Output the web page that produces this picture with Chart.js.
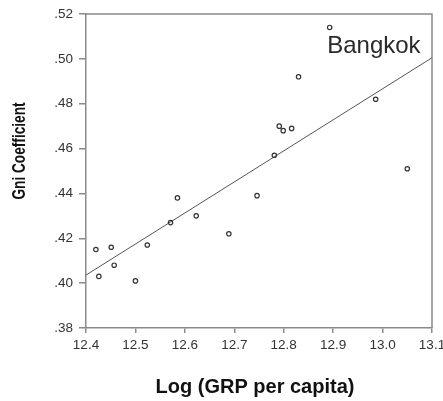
<!DOCTYPE html>
<html>
<head>
<meta charset="utf-8">
<script src="https://cdn.jsdelivr.net/npm/chart.js@4.4.1/dist/chart.umd.min.js"></script>
<style>
  html, body { margin: 0; padding: 0; background: #fff; }
  #wrap { width: 443px; height: 401px; }
</style>
</head>
<body>
<div id="wrap"><canvas id="gini" width="443" height="401"></canvas></div>
<script>
// provinces: log GRP per capita vs Gini coefficient
const logGrp = [12.420, 12.426, 12.451, 12.457, 12.500, 12.524, 12.571, 12.585, 12.623, 12.689,
                12.746, 12.781, 12.791, 12.799, 12.816, 12.830, 12.893, 12.986, 13.050];
const gini = [0.415, 0.403, 0.416, 0.408, 0.401, 0.417, 0.427, 0.438, 0.430, 0.422,
              0.439, 0.457, 0.470, 0.468, 0.469, 0.492, 0.514, 0.482, 0.451];

// fitted regression line, ends of the x range
const fitX = [12.4, 13.1];
const fitY = [0.4036, 0.5005];

const xTicks = [12.4, 12.5, 12.6, 12.7, 12.8, 12.9, 13.0, 13.1];
const yTicks = [0.38, 0.40, 0.42, 0.44, 0.46, 0.48, 0.50, 0.52];

const bangkokLabel = { text: 'Bangkok', x: 12.888, y: 0.5025 };
const xTitle = 'Log (GRP per capita)';
const yTitle = 'Gni Coefficient';

const frameColor = '#8a8a8a';
const labelColor = '#333';

const points = logGrp.map((x, i) => ({x: x, y: gini[i]}));
const fitLine = fitX.map((x, i) => ({x: x, y: fitY[i]}));

// frame, Bangkok label and axis titles
const decor = {
    id: 'decor',
    afterDraw(chart) {
        const ctx = chart.ctx;
        const a = chart.chartArea;
        const xs = chart.scales.x, ys = chart.scales.y;
        ctx.save();
        ctx.strokeStyle = frameColor;
        ctx.lineWidth = 1.5;
        ctx.beginPath();
        ctx.moveTo(a.left, a.top);
        ctx.lineTo(a.right, a.top);
        ctx.lineTo(a.right, a.bottom);
        ctx.stroke();

        ctx.fillStyle = '#2a2a2a';
        ctx.font = '24px "Liberation Sans", Arial, sans-serif';
        ctx.textAlign = 'left';
        ctx.textBaseline = 'alphabetic';
        ctx.fillText(bangkokLabel.text, xs.getPixelForValue(bangkokLabel.x), ys.getPixelForValue(bangkokLabel.y));

        ctx.fillStyle = '#111';
        ctx.font = 'bold 20px "Liberation Sans", Arial, sans-serif';
        ctx.textAlign = 'center';
        ctx.textBaseline = 'middle';
        ctx.fillText(xTitle, 255, 387);

        ctx.translate(20, 151);
        ctx.rotate(-Math.PI / 2);
        ctx.scale(0.78, 1);
        ctx.font = 'bold 17.5px "Liberation Sans", Arial, sans-serif';
        ctx.fillText(yTitle, 0, 0);
        ctx.restore();
    }
};

new Chart(document.getElementById('gini'), {
    type: 'scatter',
    data: {
        datasets: [
            {
                data: points,
                pointStyle: 'circle',
                pointRadius: 2.2,
                pointBorderWidth: 1.2,
                borderColor: '#333',
                backgroundColor: 'rgba(255,255,255,0)',
            },
            {
                type: 'line',
                data: fitLine,
                borderColor: '#555',
                borderWidth: 1,
                pointRadius: 0,
                fill: false,
            },
        ],
    },
    options: {
        responsive: false,
        animation: false,
        layout: {padding: {top: 14, right: 11, left: 0, bottom: 0}},
        plugins: {legend: {display: false}, tooltip: {enabled: false}},
        scales: {
            x: {
                type: 'linear',
                min: 12.4,
                max: 13.1,
                afterBuildTicks: s => { s.ticks = xTicks.map(v => ({value: v})); },
                afterFit: s => { s.height = 73; s.paddingLeft = 0; s.paddingRight = 0; },
                grid: {drawOnChartArea: false, color: frameColor, lineWidth: 1.5, tickLength: 5},
                border: {color: frameColor, width: 1.5},
                ticks: {
                    color: labelColor,
                    padding: 4,
                    maxRotation: 0,
                    font: {family: '"Liberation Sans", Arial, sans-serif', size: 13.5},
                    callback: v => v.toFixed(1),
                },
            },
            y: {
                type: 'linear',
                min: 0.38,
                max: 0.52,
                afterBuildTicks: s => { s.ticks = yTicks.map(v => ({value: v})); },
                afterFit: s => { s.width = 86; s.paddingTop = 0; s.paddingBottom = 0; },
                grid: {drawOnChartArea: false, color: frameColor, lineWidth: 1.5, tickLength: 7},
                border: {color: frameColor, width: 1.5},
                ticks: {
                    color: labelColor,
                    padding: 6,
                    font: {family: '"Liberation Sans", Arial, sans-serif', size: 13.5},
                    callback: v => v.toFixed(2).replace(/^0/, ''),
                },
            },
        },
    },
    plugins: [decor],
});
</script>
</body>
</html>
